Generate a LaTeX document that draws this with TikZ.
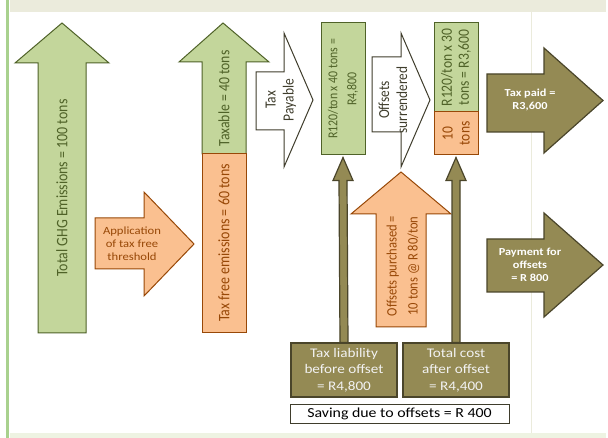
\documentclass[tikz,border=0pt]{standalone}
\usepackage{fontspec}
\setmainfont{Carlito}[FakeStretch=1.15]
\newfontfamily\vfont{Carlito}[FakeStretch=0.87]
\usetikzlibrary{calc}
\definecolor{grfill}{HTML}{C3D69B}
\definecolor{grline}{HTML}{4F6228}
\definecolor{orfill}{HTML}{FAC090}
\definecolor{orline}{HTML}{984807}
\definecolor{olfill}{HTML}{948A54}
\definecolor{olline}{HTML}{4A452A}
\definecolor{wtline}{HTML}{3F3D2C}
\definecolor{bgband}{HTML}{EBEBDC}
\definecolor{bgline}{HTML}{A9D18E}
\definecolor{bgfoot}{HTML}{EEF3E2}
\tikzset{
  grshape/.style={fill=grfill,draw=grline,line width=1pt},
  orshape/.style={fill=orfill,draw=orline,line width=1pt},
  olshape/.style={fill=olfill,draw=olline,line width=1.2pt},
  wtshape/.style={fill=white,draw=wtline,line width=1pt},
  vtext/.style={rotate=90,align=center,inner sep=0pt,font=\vfont\fontsize{16}{18}\selectfont},
  grtext/.style={vtext,text=grline},
  ortext/.style={vtext,text=orline},
  olbox/.style={olshape,inner sep=0pt,align=center,text=white!95!black,font=\fontsize{13.2}{16.5}\selectfont},
  oltext/.style={align=center,text=white,inner sep=0pt,font=\bfseries\fontsize{10.7}{13}\selectfont}
}
\begin{document}
\begin{tikzpicture}[x=1pt,y=-1pt]
  \useasboundingbox (0,0) rectangle (608,438);
  % page
  \fill[white] (0,0) rectangle (608,438);
  \fill[bgband] (10,0) rectangle (606,12);
  \fill[bgfoot] (10,433) rectangle (606,438);
  \fill[bgline] (6,0) rectangle (9,438);
  \draw[bgband,line width=1pt] (531,12) -- (531,433);

  % total emissions
  \draw[grshape] (38,333) -- (38,63) -- (15,63) -- (62,23) -- (109,63) -- (86,63) -- (86,333) -- cycle;
  \node[grtext] (ghg) at (62,188) {Total GHG Emissions = 100 tons};

  % threshold
  \draw[orshape] (95,218) -- (144,218) -- (144,192) -- (194,244) -- (144,296) -- (144,269) -- (95,269) -- cycle;
  \node[align=center,text=orline,font=\fontsize{11}{12.8}\selectfont] (thresh) at (132,244) {Application\\of tax free\\threshold};

  % split emissions
  \draw[grshape] (202,154) -- (202,62) -- (179,62) -- (223,23) -- (269,62) -- (246,62) -- (246,154) -- cycle;
  \draw[orshape] (202,154) rectangle (246,333);
  \node[grtext,font=\vfont\fontsize{15.8}{18}\selectfont] (taxable) at (224,98.5) {Taxable = 40 tons};
  \node[ortext] (taxfree) at (224,243) {Tax free emissions = 60 tons};

  % tax payable
  \draw[wtshape] (256,72) -- (284,72) -- (284,33) -- (313,100) -- (284,167) -- (284,130) -- (256,130) -- cycle;
  \node[vtext,text=wtline,font=\vfont\fontsize{15.5}{18}\selectfont] (payable) at (281,100) {Tax\\Payable};

  % liability
  \node[grshape,minimum width=44pt,minimum height=132pt,inner sep=0pt] (rate) at (343,89) {};
  \node[grtext,font=\vfont\fontsize{13.6}{19}\selectfont] at (rate) {R120/ton x 40 tons =\\R4,800};

  % offsets surrendered
  \draw[wtshape] (372,57) -- (401,57) -- (401,33) -- (430,100) -- (401,167) -- (401,132) -- (372,132) -- cycle;
  \node[vtext,text=wtline,font=\vfont\fontsize{15.3}{18}\selectfont] (surr) at (393,100) {Offsets\\surrendered};

  % after offsets
  \node[grshape,minimum width=44pt,minimum height=89pt,inner sep=0pt] (rest) at (456,67.5) {};
  \node[orshape,minimum width=44pt,minimum height=43pt,inner sep=0pt] (offs) at (456,133.5) {};
  \node[grtext,font=\vfont\fontsize{15.6}{17}\selectfont] at (rest) {R120/ton x 30\\tons = R3,600};
  \node[ortext,font=\vfont\fontsize{15.6}{17}\selectfont] at (offs) {10\\tons};

  % payments
  \draw[olshape] (487,74) -- (544,74) -- (544,48) -- (603,100.5) -- (544,153) -- (544,132) -- (487,132) -- cycle;
  \node[oltext] (paid) at (530,100) {Tax paid =\\R3,600};
  \draw[olshape] (487,239) -- (544,239) -- (544,213) -- (603,265) -- (544,317) -- (544,292) -- (487,292) -- cycle;
  \node[oltext] (payoff) at (530,265) {Payment for\\offsets\\= R 800};

  % offsets purchased
  \draw[orshape] (376,327) -- (376,214) -- (351,214) -- (401,172) -- (451,214) -- (426,214) -- (426,327) -- cycle;
  \node[ortext,font=\vfont\fontsize{14.4}{21}\selectfont] (purch) at (403,266) {Offsets purchased =\\10 tons @ R 80/ton};

  % totals
  \node[olbox,minimum width=106pt,minimum height=54pt] (liab) at (344,370) {Tax liability\\before offset\\= R4,800};
  \node[olbox,minimum width=106pt,minimum height=54pt] (cost) at (456,370) {Total cost\\after offset\\= R4,400};
  \node[draw=wtline,fill=white,line width=0.8pt,minimum width=219pt,minimum height=19pt,inner sep=0pt,font=\fontsize{13.8}{15}\selectfont] (saving) at (399.5,413.5) {Saving due to offsets = R 400};

  % links
  \draw[olshape] ($(liab.north)+(-4,0)$) -- ($(rate.south)+(-4,25)$) -- ($(rate.south)+(-10,25)$) -- ($(rate.south)+(0,2)$)
    -- ($(rate.south)+(10,25)$) -- ($(rate.south)+(4,25)$) -- ($(liab.north)+(4,0)$) -- cycle;
  \draw[olshape] ($(cost.north)+(-4,0)$) -- ($(offs.south)+(-4,25)$) -- ($(offs.south)+(-10,25)$) -- ($(offs.south)+(0,2)$)
    -- ($(offs.south)+(10,25)$) -- ($(offs.south)+(4,25)$) -- ($(cost.north)+(4,0)$) -- cycle;
\end{tikzpicture}
\end{document}
